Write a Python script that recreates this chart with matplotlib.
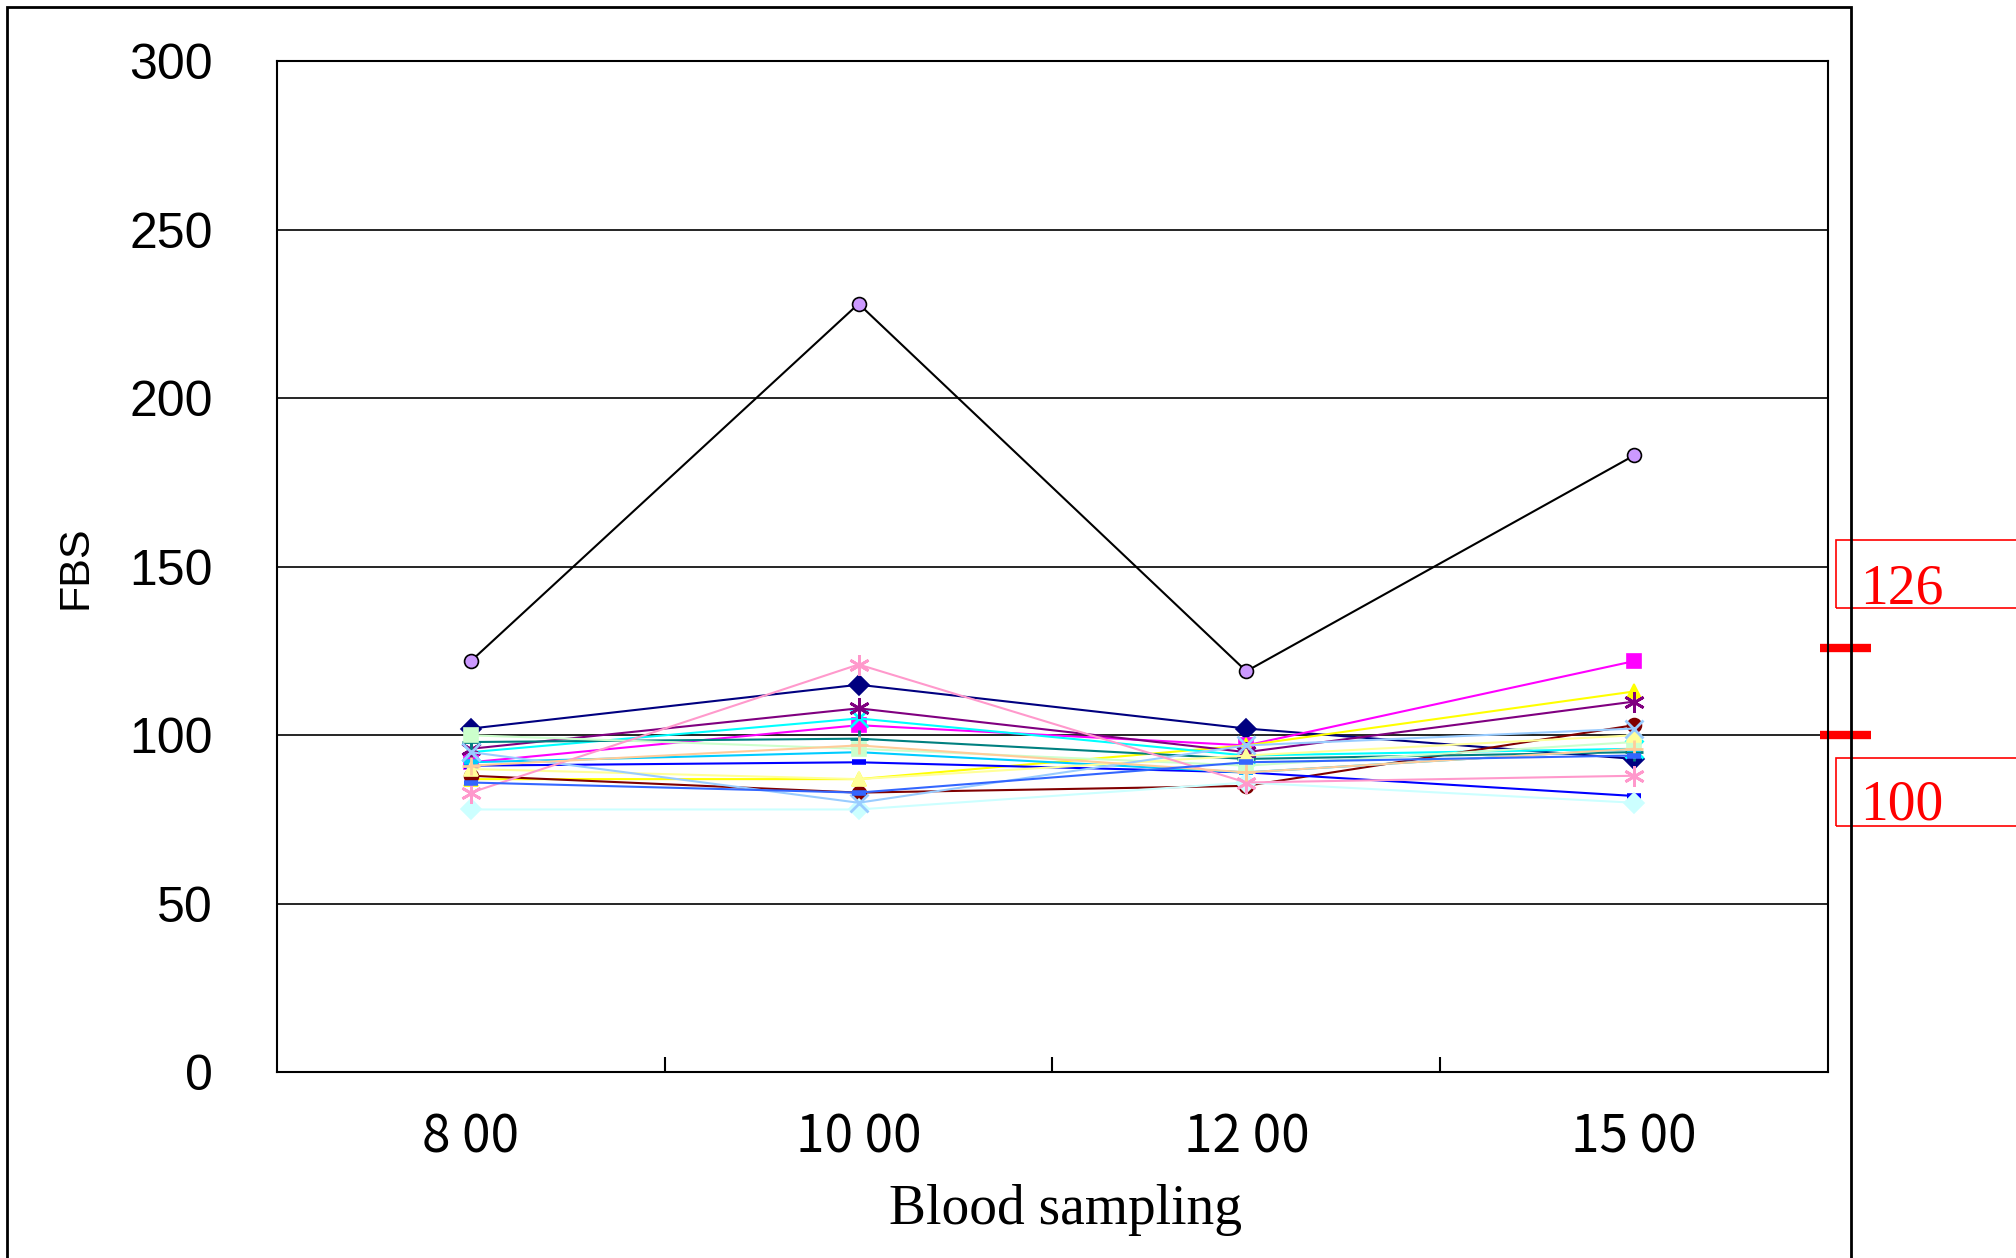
import matplotlib.pyplot as plt
from matplotlib.patches import Rectangle
from matplotlib.transforms import blended_transform_factory

times = ["8 00", "10 00", "12 00", "15 00"]

# one list per subject, FBS at each sampling time
navy = [102, 115, 102, 93]
magenta = [92, 103, 97, 122]
yellow = [87, 87, 97, 113]
cyan = [95, 105, 94, 96]
purple = [96, 108, 95, 110]
maroon = [88, 83, 85, 103]
teal = [98, 99, 93, 95]
blue = [91, 92, 89, 82]
sky_blue = [92, 95, 89, 96]
light_cyan = [78, 78, 86, 80]
light_green = [100, 96, 91, 98]
light_yellow = [90, 87, 94, 100]
pale_blue = [95, 80, 97, 102]
pink = [83, 121, 86, 88]
lavender = [122, 228, 119, 183]
tan = [91, 97, 89, 96]
royal_blue = [86, 83, 92, 94]

yticks = [0, 50, 100, 150, 200, 250, 300]
ref_values = [126, 100]
ref_labels = ["126", "100"]

# (values, line colour, marker, marker face colour)
series = [
    (navy, "#000080", "D", "#000080"),
    (magenta, "#FF00FF", "s", "#FF00FF"),
    (yellow, "#FFFF00", "^", "#FFFF00"),
    (cyan, "#00FFFF", "x", "#00FFFF"),
    (purple, "#800080", (6, 2, 0), "#800080"),
    (maroon, "#800000", "o", "#800000"),
    (teal, "#008080", "+", "#008080"),
    (blue, "#0000FF", "_", "#0000FF"),
    (sky_blue, "#00CCFF", "_", "#00CCFF"),
    (light_cyan, "#CCFFFF", "D", "#CCFFFF"),
    (light_green, "#CCFFCC", "s", "#CCFFCC"),
    (light_yellow, "#FFFF99", "^", "#FFFF99"),
    (pale_blue, "#99CCFF", "x", "#99CCFF"),
    (pink, "#FF99CC", (6, 2, 0), "#FF99CC"),
    (lavender, "#000000", "o", "#CC99FF"),
    (tan, "#FFCC99", "+", "#FFCC99"),
    (royal_blue, "#3366FF", "_", "#3366FF"),
]

fig = plt.figure(figsize=(20.16, 12.58), dpi=100)
ax = fig.add_axes([0.1374, 0.1475, 0.7693, 0.804])

x = list(range(len(times)))
for vals, col, mk, face in series:
    ms, mew = 10, 1.2
    if mk in ("x", "+"):
        ms, mew = 13, 2
    elif isinstance(mk, tuple):
        ms, mew = 15, 2
    elif mk == "_":
        ms, mew = 10, 4
    ax.plot(x, vals, color=col, lw=1.5, marker=mk, markersize=ms,
            markerfacecolor=face, markeredgecolor=col, markeredgewidth=mew)

ax.set_xlim(-0.5, 3.5)
ax.set_ylim(0, 300)
ax.set_yticks(yticks)
ax.set_yticklabels([str(v) for v in yticks], fontsize=36, family="Liberation Sans")
ax.tick_params(axis="y", length=0, pad=46)
ax.set_xticks(x)
ax.set_xticklabels(times, fontsize=37, family=["Noto Sans CJK JP", "DejaVu Sans"])
ax.tick_params(axis="x", which="major", length=0, pad=28)
ax.set_xticks([0.5, 1.5, 2.5], minor=True)
ax.tick_params(axis="x", which="minor", direction="in", length=11, width=1.5)
ax.yaxis.grid(True, color="black", lw=1.2)
ax.set_axisbelow(True)
for sp in ax.spines.values():
    sp.set_linewidth(1.5)

ax.set_xlabel("Blood sampling", fontsize=40, family="Liberation Serif")
ax.xaxis.set_label_coords(0.5085, -0.11)
ax.set_ylabel("FBS", fontsize=31, family="Liberation Sans")
ax.yaxis.set_label_coords(-0.117, 0.5)

# reference markers on the right edge
trans = blended_transform_factory(ax.transAxes, ax.transData)
for v in ref_values:
    ax.plot([0.9948, 1.0277], [v, v], color="red", lw=6, transform=trans,
            clip_on=False, solid_capstyle="butt")

# boxed labels, clipped by the figure edge like the original
label_pos = [(1836, 540, 1860, 603), (1836, 758, 1860, 820)]
for (bx, by, tx, ty), lab in zip(label_pos, ref_labels):
    fig.patches.append(Rectangle((bx / 2016, 1 - (by + 68) / 1258), 0.2, 68 / 1258,
                                 transform=fig.transFigure, fill=False,
                                 edgecolor="red", lw=1.2))
    fig.text(tx / 2016, 1 - ty / 1258, lab, color="red", fontsize=40,
             family="Liberation Serif", va="baseline")

# outer chart frame
fig.patches.append(Rectangle((7 / 2016, -0.05), (1851 - 7) / 2016, 1.05 - 7 / 1258,
                             transform=fig.transFigure, fill=False,
                             edgecolor="black", lw=2))

fig.savefig("out.png", dpi=100)
